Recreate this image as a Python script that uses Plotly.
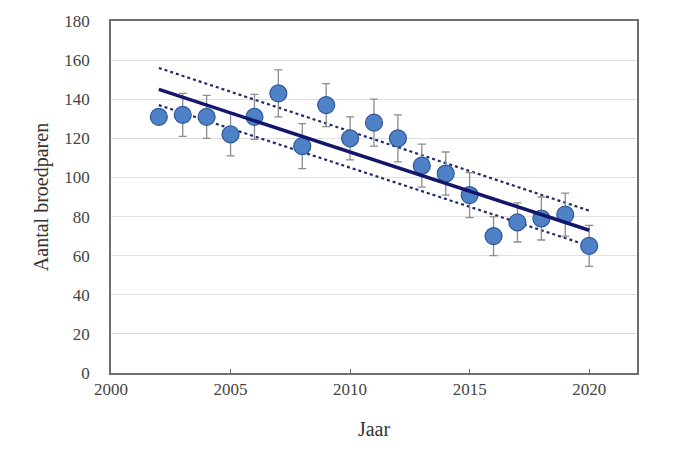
import plotly.graph_objects as go

years = [2002, 2003, 2004, 2005, 2006, 2007, 2008, 2009, 2010, 2011,
         2012, 2013, 2014, 2015, 2016, 2017, 2018, 2019, 2020]
pairs = [131, 132, 131, 122, 131, 143, 116, 137, 120, 128,
         120, 106, 102, 91, 70, 77, 79, 81, 65]
err = [0, 11, 11, 11, 11.5, 12, 11.5, 11, 11, 12,
       12, 11, 11, 11.5, 10, 10, 11, 11, 10.5]

trend_x = [2002, 2020]
trend_y = [145, 73]
upper_y = [156, 83]
lower_y = [137, 65]

fig = go.Figure()
fig.add_trace(go.Scatter(x=trend_x, y=upper_y, mode="lines",
                         line=dict(color="#1f2a6b", width=2.2, dash="dot"), showlegend=False))
fig.add_trace(go.Scatter(x=trend_x, y=lower_y, mode="lines",
                         line=dict(color="#1f2a6b", width=2.2, dash="dot"), showlegend=False))
fig.add_trace(go.Scatter(x=years, y=pairs, mode="markers",
                         error_y=dict(type="data", array=err, visible=True,
                                      color="#8c8c8c", thickness=1.3, width=4),
                         marker=dict(size=17, color="#4f81c7",
                                     line=dict(color="#2b5797", width=1.2)),
                         showlegend=False))
fig.add_trace(go.Scatter(x=trend_x, y=trend_y, mode="lines",
                         line=dict(color="#14166b", width=3.5), showlegend=False))

font = "Liberation Serif"
fig.update_layout(
    width=680, height=457,
    margin=dict(l=103, r=51, t=13, b=92),
    paper_bgcolor="white", plot_bgcolor="white",
    font=dict(family=font, color="#444444", size=17),
)
fig.update_xaxes(range=[2000, 2022], tickvals=[2000, 2005, 2010, 2015, 2020],
                 showgrid=False, zeroline=False, automargin=False,
                 showline=True, linecolor="#6e6e6e", linewidth=1.5, mirror=True,
                 ticks="inside", ticklen=4, tickcolor="#6e6e6e",
                 tickfont=dict(size=17, family=font, color="#444444"),
                 title=dict(text="Jaar", font=dict(size=20, family=font, color="#333333"), standoff=24))
fig.update_yaxes(range=[0, 180], dtick=20, automargin=False,
                 showgrid=True, gridcolor="#e0e0e0", gridwidth=1, zeroline=False,
                 showline=True, linecolor="#6e6e6e", linewidth=1.5, mirror=True,
                 ticks="", ticklabelstandoff=16,
                 tickfont=dict(size=17, family=font, color="#444444"),
                 title=dict(text="Aantal broedparen", font=dict(size=20, family=font, color="#333333"), standoff=10))

fig.write_html("out.html")
